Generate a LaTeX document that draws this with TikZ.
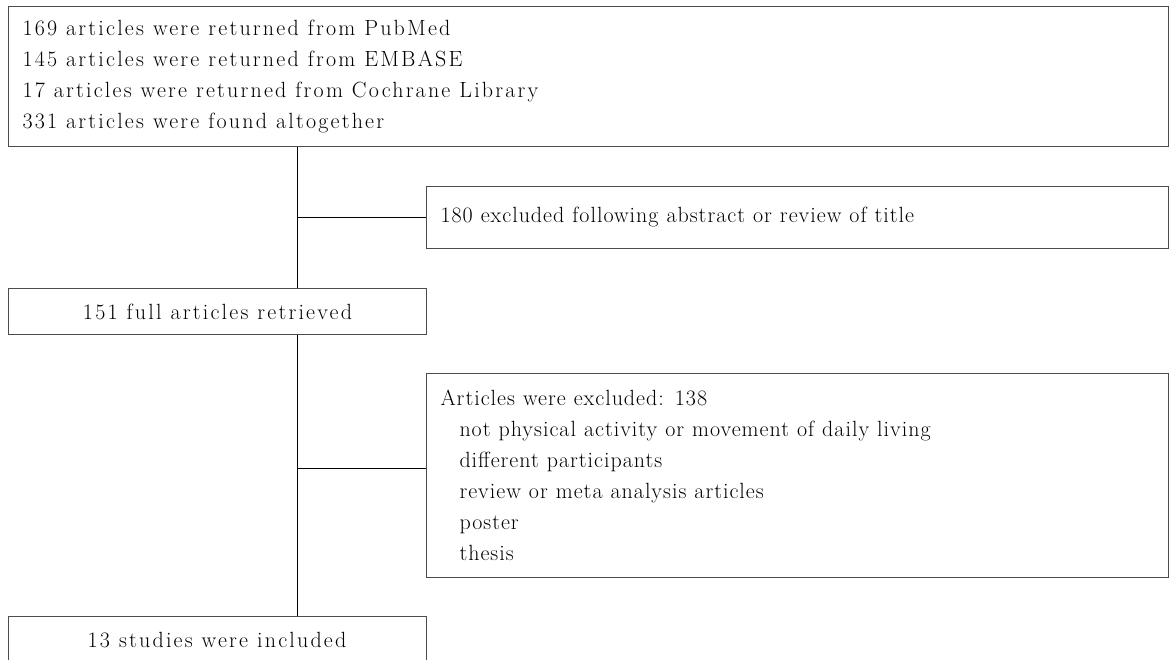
\documentclass[tikz,border=0pt]{standalone}
\usepackage{fontspec}
\setmainfont{Latin Modern Roman}[LetterSpace=4.5]
\newfontfamily\widefam{Latin Modern Roman}[LetterSpace=10]
\newcommand\boxfont{\fontsize{22pt}{31pt}\selectfont}
\newcommand\widefont{\widefam\fontsize{22pt}{31pt}\selectfont}
\newcommand\wsp{\spaceskip=8pt plus 1pt minus 1pt\relax}
\newcommand\wwsp{\spaceskip=9pt plus 1pt minus 1pt\relax}
\begin{document}
\begin{tikzpicture}[x=1pt,y=-1pt,
  box/.style={draw=black!70,line width=1pt,rectangle,inner sep=0pt,font=\boxfont},
  widebox/.style={box,font=\widefont},
  conn/.style={draw=black,line width=1pt}]
\useasboundingbox (0,0) rectangle (1170,659);
\clip (0,0) rectangle (1170,659);
\node[widebox,anchor=north west,minimum width=1160pt,minimum height=140pt,
  text width=1132pt,align=left] (b1) at (8,6)
  {\wwsp 169 articles were returned from PubMed\\
   145 articles were returned from EMBASE\\
   17 articles were returned from Cochrane Library\\
   331 articles were found altogether};
\node[box,anchor=north west,minimum width=742pt,minimum height=62pt,
  text width=714pt,align=left] (b2) at (426,186)
  {\wsp 180 excluded following abstract or review of title};
\node[widebox,anchor=north west,minimum width=418pt,minimum height=46pt,
  align=center] (b3) at (8,288) {\wwsp 151 full articles retrieved};
\node[box,anchor=north west,minimum width=742pt,minimum height=204pt,
  text width=714pt,align=left] (b4) at (426,373)
  {\wsp Articles were excluded: 138\\
   \hspace*{19pt}not physical activity or movement of daily living\\
   \hspace*{19pt}different participants\\
   \hspace*{19pt}review or meta analysis articles\\
   \hspace*{19pt}poster\\
   \hspace*{19pt}thesis};
\node[box,anchor=north west,minimum width=418pt,minimum height=64pt] (b5) at (8,616) {};
\node[font=\widefont,anchor=base,inner sep=0pt] (t5) at (217,647) {\wwsp 13 studies were included};
\coordinate (j1) at (297,217);
\coordinate (j2) at (297,468);
\draw[conn] (j1 |- b1.south) -- (j1 |- b3.north);
\draw[conn] (j1) -- (j1 -| b2.west);
\draw[conn] (j2 |- b3.south) -- (j2 |- b5.north);
\draw[conn] (j2) -- (j2 -| b4.west);
\end{tikzpicture}
\end{document}
